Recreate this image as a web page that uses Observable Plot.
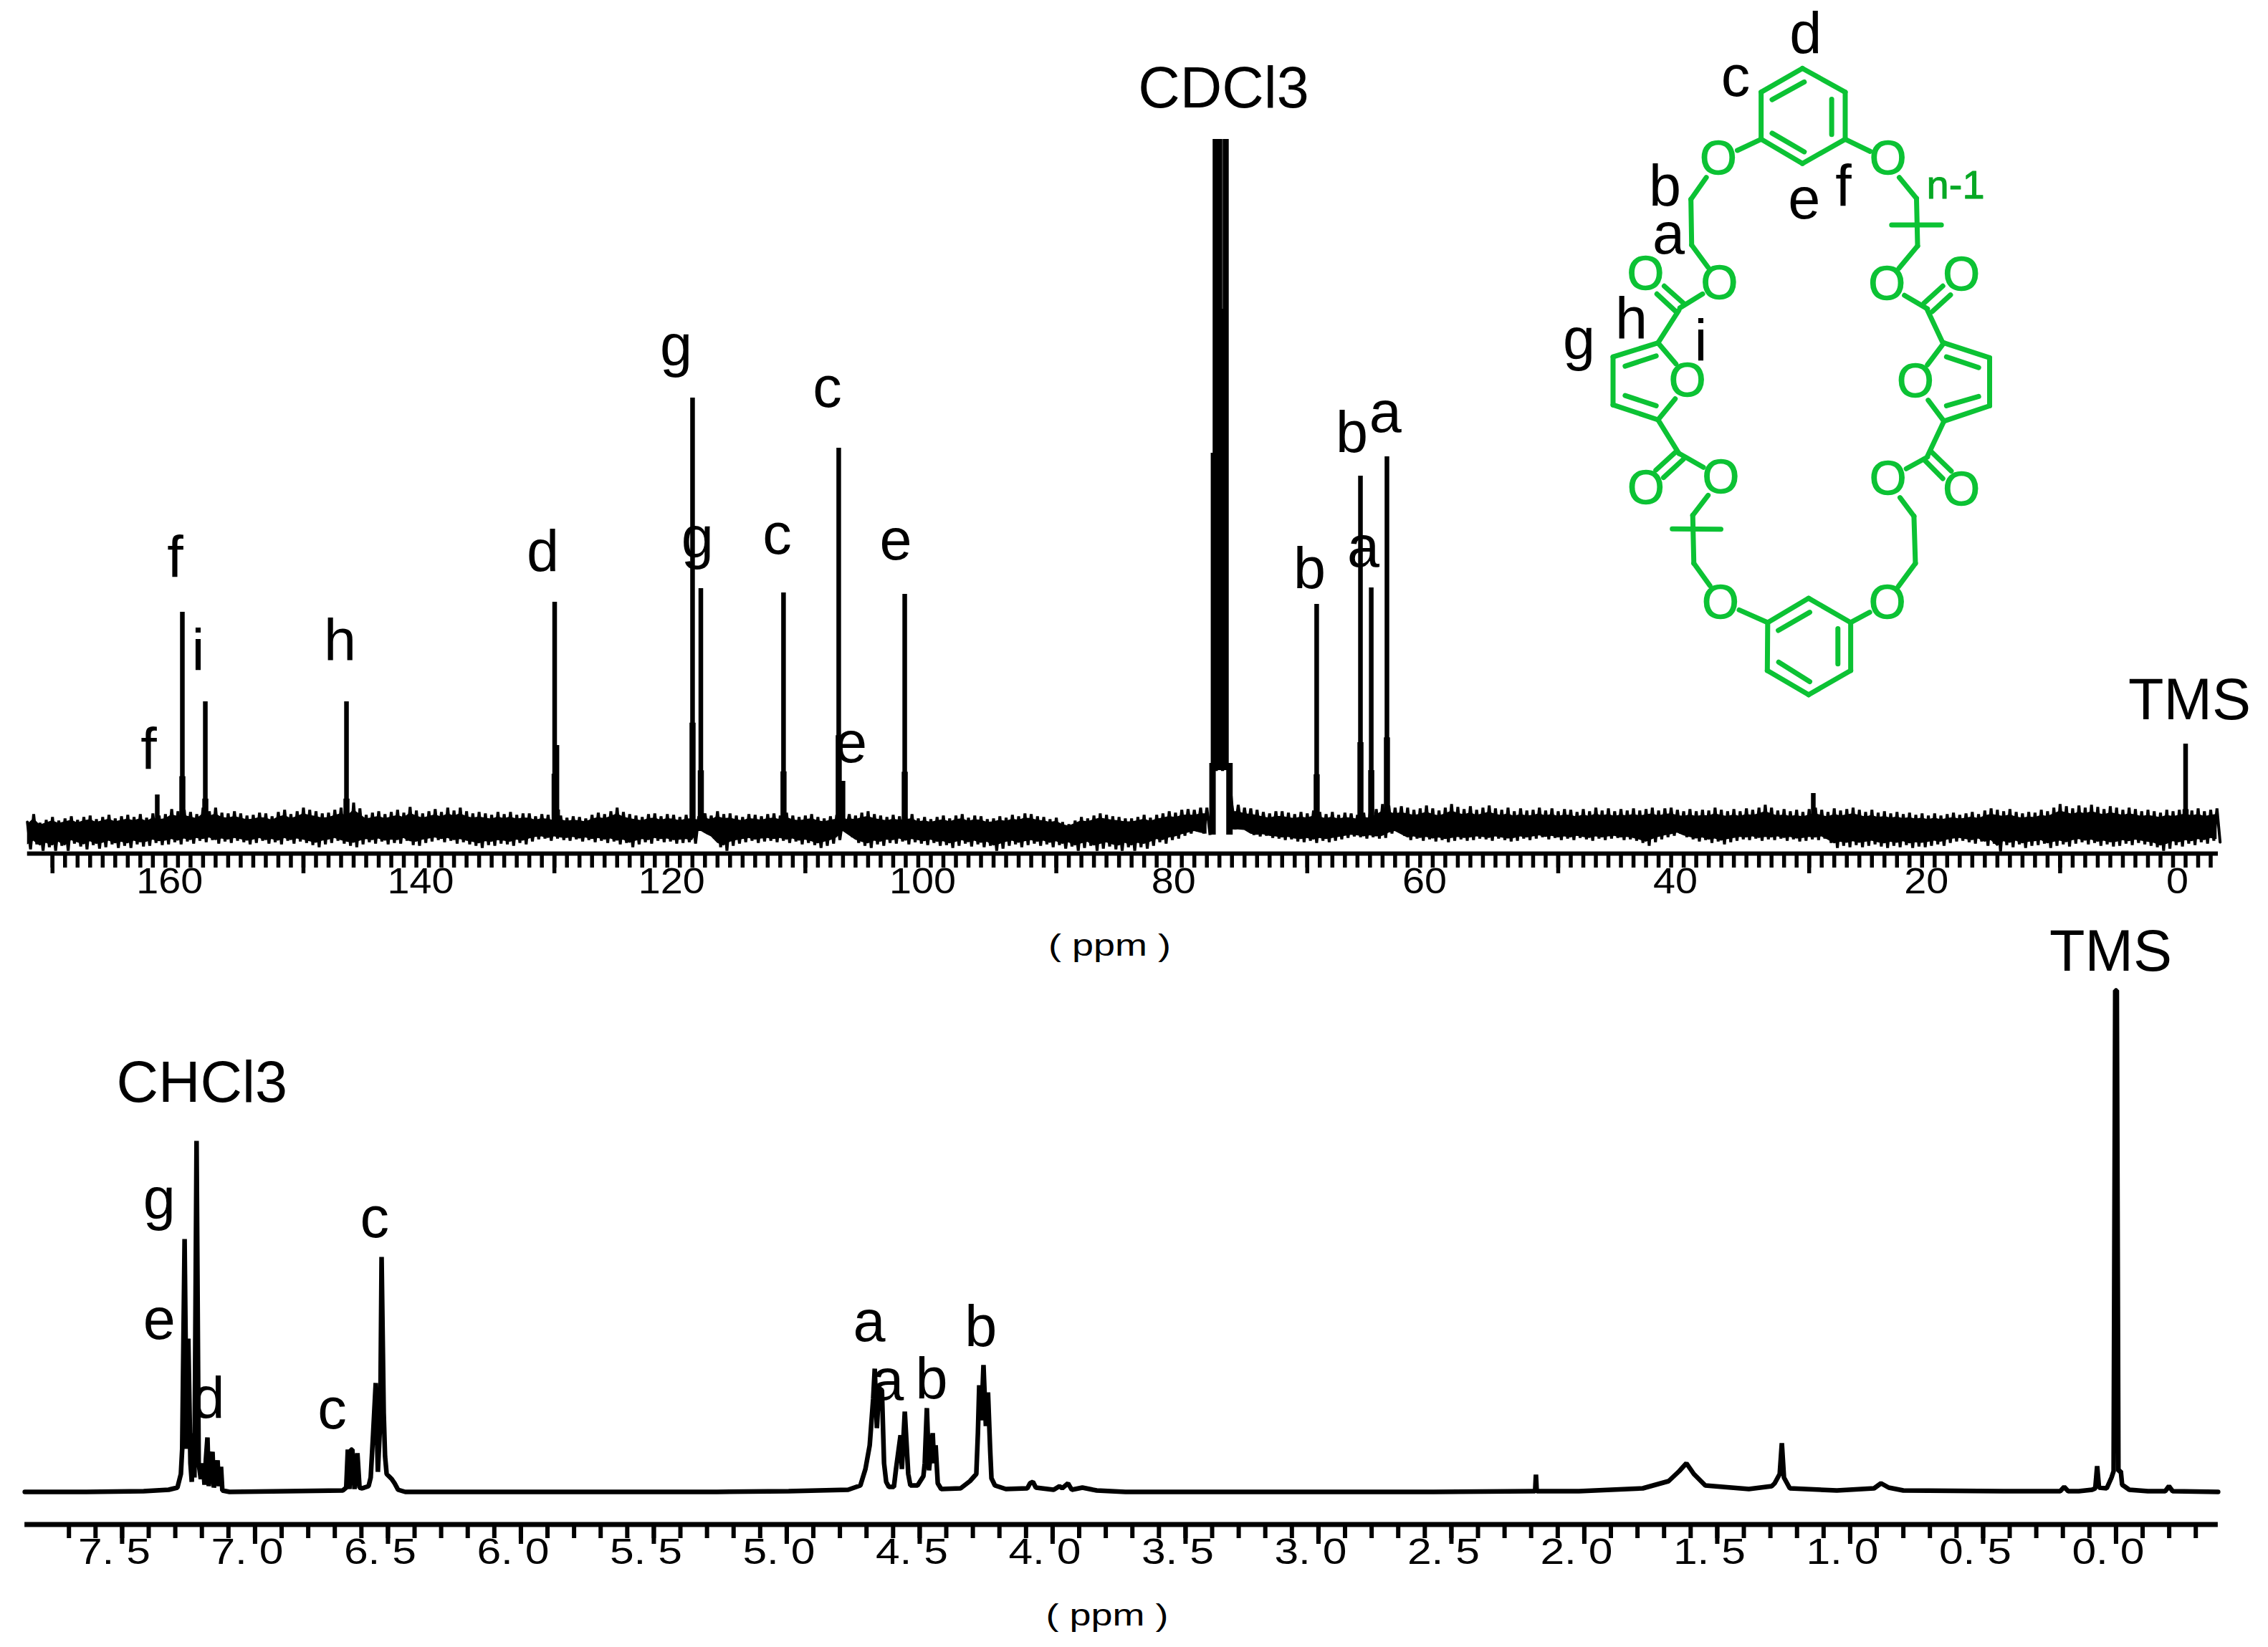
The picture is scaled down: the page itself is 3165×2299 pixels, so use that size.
<!DOCTYPE html>
<html><head><meta charset="utf-8">
<script src="https://cdn.jsdelivr.net/npm/d3@7"></script>
<script src="https://cdn.jsdelivr.net/npm/@observablehq/plot@0.6"></script>
<style>
html,body{margin:0;padding:0;background:#fff}
#wrap{position:relative;width:3165px;height:2299px;overflow:hidden;background:#fff}
svg{position:absolute;overflow:visible;background:transparent}
</style></head><body><div id="wrap"></div>
<script>
// ---------- 13C spectrum (top) : ppm / intensity ----------
const c13PeakPpm = [161.65,159.65,157.82,146.57,129.98,129.8,118.99,118.33,111.74,107.34,107.0,102.08,69.25,65.76,64.9,63.65,29.67,0];
const c13PeakInt = [51,306,181,181,320,120,605,339,333,535,70,331,317,496,340,523,53,122];
// noise envelope, every 0.5 ppm from 172 down to -2.5
const c13NoiseHi = [
13,24,12,16,20,15,18,21,16,20,22,17,20,23,18,21,
23,20,24,19,25,22,24,31,28,30,27,24,33,28,33,26,
25,28,25,22,23,26,25,21,27,30,24,28,33,30,28,25,
26,30,33,29,40,32,23,26,28,24,27,30,26,34,29,25,
28,31,27,33,29,33,28,25,27,25,23,27,24,27,23,25,
25,21,24,23,20,22,19,21,20,18,23,26,24,28,33,27,
24,22,20,24,25,21,24,23,20,23,24,21,25,22,28,24,
25,22,20,24,23,21,24,25,22,26,22,20,22,24,20,18,
21,23,20,24,22,26,28,24,22,20,23,21,22,24,18,20,
17,20,22,18,22,24,19,22,21,17,18,21,19,23,21,25,
24,21,20,17,19,13,10,15,20,18,22,25,23,21,20,18,
18,20,23,19,23,25,28,26,30,31,30,33,33,95,95,95,
37,37,33,32,30,27,25,28,28,26,24,27,25,29,27,24,
27,23,26,25,23,26,25,31,38,36,33,35,33,30,32,36,
32,29,33,38,34,31,35,30,33,36,32,30,33,28,32,29,
30,33,29,32,28,31,30,27,31,28,33,29,32,28,31,29,
32,29,31,33,29,32,33,30,28,31,28,30,29,33,30,28,
31,28,32,30,33,37,33,29,31,28,30,27,31,33,30,27,
32,29,31,33,30,27,30,26,28,25,27,24,26,23,25,22,
25,22,24,26,23,25,27,24,29,32,30,28,31,27,25,27,
26,30,28,33,38,35,32,36,33,37,34,31,35,33,30,33,
31,28,30,28,26,30,28,30,33,29,32,28,30,32];
const c13NoiseLo = [
-25,-18,-27,-22,-27,-20,-27,-17,-21,-25,-19,-24,-22,-18,-23,-20,
-23,-18,-21,-20,-16,-19,-18,-15,-18,-14,-17,-13,-15,-12,-17,-14,
-16,-13,-15,-18,-16,-13,-17,-15,-18,-13,-17,-14,-16,-19,-22,-18,
-16,-13,-17,-20,-22,-18,-15,-17,-14,-18,-16,-17,-13,-19,-20,-16,
-14,-12,-15,-13,-17,-15,-18,-20,-23,-19,-20,-17,-18,-20,-16,-18,
-14,-11,-10,-13,-10,-12,-13,-11,-14,-12,-15,-13,-16,-14,-18,-16,
-22,-18,-15,-17,-13,-15,-14,-17,-16,-15,-17,3,-4,-10,-22,-27,
-20,-17,-15,-13,-16,-14,-13,-15,-13,-16,-14,-18,-16,-19,-23,-20,
-17,-12,0,-8,-16,-20,-23,-18,-20,-16,-17,-14,-18,-15,-17,-19,
-16,-20,-19,-23,-20,-17,-21,-18,-22,-20,-27,-24,-20,-18,-22,-19,
-17,-20,-18,-22,-19,-24,-21,-27,-23,-20,-27,-24,-21,-25,-27,-22,
-27,-22,-24,-20,-15,-17,-12,-10,-6,-3,0,-3,-5,85,85,85,
3,3,2,-5,-7,-6,-9,-10,-12,-11,-14,-15,-13,-16,-13,-15,
-13,-11,-9,-7,-8,-10,-8,-10,-9,-3,0,-6,-12,-10,-13,-11,
-14,-12,-15,-13,-11,-13,-12,-10,-11,-13,-10,-12,-14,-13,-10,-12,
-10,-8,-11,-9,-12,-10,-12,-9,-11,-13,-10,-12,-10,-9,-12,-11,
-13,-16,-20,-15,-11,-8,-6,-3,-8,-11,-14,-12,-16,-14,-18,-15,
-13,-11,-12,-10,-13,-11,-12,-10,-13,-11,-14,-13,-11,-12,-10,-16,
-23,-20,-22,-19,-22,-20,-18,-21,-23,-20,-22,-19,-23,-21,-22,-20,
-18,-20,-16,-14,-13,-15,-17,-14,-20,-17,-28,-19,-22,-18,-23,-20,
-19,-17,-23,-20,-18,-21,-17,-15,-18,-16,-20,-18,-21,-20,-17,-19,
-16,-18,-20,-22,-27,-24,-19,-21,-17,-19,-15,-17,-13,-15];
// solvent multiplet
const cdcl3Ppm  = [77.3,77.01,76.5,77.45,76.75];
const cdcl3Top  = [966,966,966,528,729];
const cdcl3Side = [77.55,76.2];
const c13TickLabels = [160,140,120,100,80,60,40,20,0];
const c13LabelText = ["CDCl3","g","c","g","c","e","d","f","i","h","f","e","b","a","b","a","TMS"];
const c13LabelPpm  = [76.67,120.3,108.25,118.6,112.25,102.79,130.92,160.22,158.39,147.09,162.34,106.37,69.82,65.53,66.45,63.77,-0.31];
const c13LabelInt  = [1011,651,593,383,388,380,364,356,226,240,88,97,340,370,530,558,157];

// ---------- 1H spectrum (bottom) ----------
const h1Ppm = [7.866,7.634,7.419,7.325,7.292,7.279,7.274,7.265,7.257,7.251,7.243,7.238,7.233,7.228,7.220,7.212,7.204,7.196,7.190,7.185,7.179,7.174,7.166,7.160,7.155,7.147,7.141,7.136,7.128,7.123,7.096,
6.880,6.670,6.657,6.651,6.645,6.640,6.634,6.626,6.615,6.607,6.597,6.573,6.565,6.556,6.546,6.538,6.529,6.524,6.516,6.511,6.505,6.486,6.475,6.462,6.435,
6.071,5.262,4.993,4.769,4.723,4.704,4.688,4.675,4.669,4.661,4.653,4.642,4.634,4.626,4.616,4.597,4.589,4.572,4.567,4.556,4.543,4.535,4.508,4.486,4.481,4.473,4.465,4.451,4.446,4.440,4.432,4.419,4.346,4.311,4.287,4.281,4.276,4.268,4.260,4.251,4.243,4.235,4.230,4.217,4.176,4.095,4.085,4.074,4.063,3.996,3.974,3.964,3.942,3.928,3.888,3.834,3.726,2.567,
2.195,2.185,2.182,2.179,2.02,1.780,1.683,1.643,1.616,1.588,1.545,1.381,1.295,1.284,1.265,1.257,1.249,1.227,1.05,0.91,0.884,0.855,0.80,0.40,0.21,0.195,0.18,0.14,0.09,0.078,0.071,0.064,0.035,0.017,0.009,0.003,-0.003,-0.009,-0.018,-0.023,-0.05,-0.12,-0.185,-0.199,-0.213,-0.384];
const h1Int = [0,0,1,3,6,25,60,353,60,214,40,14,82,20,490,40,18,40,10,45,76,8,44,56,6,30,44,8,35,2,0,
1,2,6,59,4,59,59,4,54,6,5,8,20,80,152,28,100,328,110,50,25,18,12,3,0,
0,0,1,3,9,32,65,130,172,89,145,142,40,14,7,7,32,79,32,112,25,9,9,22,40,117,30,82,40,65,12,4,5,15,25,82,149,100,177,92,139,60,19,9,4,5,12,14,6,3,8,5,12,3,6,2,0,0,
1,1,24,1,1,5,15,29,40,25,9,4,8,12,25,68,20,5,2,5,12,6,2,1,1,7,1,1,3,5,36,6,5,20,29,700,700,29,29,10,3,1,1,8,1,0];
const h1TickLabels = ["7. 5","7. 0","6. 5","6. 0","5. 5","5. 0","4. 5","4. 0","3. 5","3. 0","2. 5","2. 0","1. 5","1. 0","0. 5","0. 0"];
const h1TickValues = [7.5,7,6.5,6,5.5,5,4.5,4,3.5,3,2.5,2,1.5,1,0.5,0];
const h1LabelText = ["TMS","CHCl3","g","e","d","c","c","a","a","b","b"];
const h1LabelPpm  = [0.02,7.2,7.36,7.36,7.175,6.71,6.55,4.69,4.62,4.455,4.27];
const h1LabelInt  = [728,545,382,214,104,89,356,211,129,131,204];

// ---------- molecule drawing (diagram units) ----------
const bondX1=[813,930,930,813,700,700,730,893,730,700,930,550,508,510,540,415,435,475,418,295,295,418,418,328,328,418,475,468,487,555,513,516,457,640,718,830,945,945,830,717,747,910,748,945,1075,1122,1118,1097,1145,1165,1155,1200,1325,1325,1200,1200,1207,1207,1155,1092,1145,1168,1078,1125,1128,1057];
const bondY1=[146,197,298,350,298,197,213,212,285,298,298,380,427,525,630,630,613,665,735,765,868,735,900,785,848,900,972,968,985,1062,1105,1208,1134,1308,1335,1283,1335,1438,1490,1438,1352,1348,1420,1335,1258,1208,1107,1005,985,968,978,735,767,870,735,903,765,870,665,633,650,668,380,425,527,482];
const bondX2=[930,930,813,700,700,813,818,893,818,635,998,508,510,555,478,470,488,418,295,295,418,467,465,413,413,475,542,412,433,513,516,560,590,718,830,945,945,830,717,718,833,910,833,997,1122,1118,1080,1155,1197,1220,1200,1325,1325,1200,1155,1157,1295,1295,1197,1155,1197,1218,1125,1128,1077,1193];
const bondY2=[197,298,350,298,197,146,175,288,325,322,324,427,525,573,660,670,650,735,765,868,900,780,855,763,870,972,1002,1008,1024,1105,1208,1256,1135,1335,1283,1335,1438,1490,1438,1335,1313,1424,1462,1313,1208,1107,1067,980,1026,1010,903,767,870,903,782,858,788,850,735,662,613,632,425,527,575,482];
const oxyX=[583,1047,586,1044,384,1248,498,1122,385,1248,590,1047,589,1045];
const oxyY=[341,341,608,610,588,590,817,819,1048,1050,1025,1028,1293,1293];
const molLabelText=["d","c","b","e","f","a","h","g","i"];
const molLabelX=[822,630,437,818,925,447,345,202,535];
const molLabelY=[113,205,440,468,440,543,725,770,772];

// ---------- tables ----------
const FONT='"Liberation Sans",Arial,sans-serif';
const noise = c13NoiseHi.map((hi,i)=>({ppm:172-i*0.5,hi,lo:c13NoiseLo[i]}));
const zigzag = noise.flatMap(d=>[{ppm:d.ppm,h:d.hi},{ppm:d.ppm-0.25,h:d.lo}]);
const c13Peaks = c13PeakPpm.map((ppm,i)=>({ppm,h:c13PeakInt[i]}));
const cdcl3 = cdcl3Ppm.map((ppm,i)=>({ppm,h:cdcl3Top[i]}));
const minor = d3.range(-2,171,1);
const major = [170,150,130,110,90,70,50,30,10];
const h1 = h1Ppm.map((ppm,i)=>({ppm,h:h1Int[i]}));
const h1Ticks = d3.range(-3,78).map(d=>d/10);
const h1Long = d3.range(0,16).map(d=>d/2);
const lab = (t,p,h)=>t.map((text,i)=>({text,ppm:p[i],h:h[i]}));

const top13 = Plot.plot({
  width:3165,height:1360,margin:0,
  x:{domain:[174.155,-6.596],range:[0,3165],axis:null},
  y:{domain:[1160,-200],range:[0,1360],axis:null},
  style:{left:"0px",top:"0px",fontFamily:FONT},
  marks:[
    Plot.areaY(noise,{x:"ppm",y1:d=>d.lo>10?NaN:d.lo*0.75,y2:d=>d.lo>10?NaN:d.hi*0.75,fill:"#000"}),
    Plot.line(zigzag,{x:"ppm",y:"h",stroke:"#000",strokeWidth:4,strokeLinejoin:"bevel"}),
    Plot.ruleX(c13Peaks,{x:"ppm",y1:0,y2:"h",stroke:"#000",strokeWidth:6.5}),
    Plot.ruleX(c13Peaks,{x:"ppm",y1:0,y2:d=>d.h*0.25,stroke:"#000",strokeWidth:8.5}),
    Plot.ruleX(cdcl3,{x:"ppm",y1:85,y2:"h",stroke:"#000",strokeWidth:8.5}),
    Plot.ruleX(cdcl3Side,{x:d=>d,y1:-5,y2:95,stroke:"#000",strokeWidth:9}),
    Plot.ruleY([-31],{x1:172,x2:-2.6,stroke:"#000",strokeWidth:6}),
    Plot.ruleX(minor,{y1:-33,y2:-51,stroke:"#000",strokeWidth:5.5}),
    Plot.ruleX(major,{y1:-33,y2:-59,stroke:"#000",strokeWidth:5.5}),
    Plot.text(c13TickLabels,{x:d=>d,y:-86,text:d=>String(d),dx:-11.5,fontSize:50,lineAnchor:"bottom",fill:"#000"}),
    Plot.text(["( ppm )"],{x:85.75,y:-173,text:d=>d,fontSize:42,lineAnchor:"bottom",fill:"#000"}),
    Plot.text(lab(c13LabelText,c13LabelPpm,c13LabelInt),{x:"ppm",y:"h",text:"text",fontSize:81,lineAnchor:"bottom",fill:"#000"})
  ]
});
const bottom1 = Plot.plot({
  width:3165,height:1019,margin:0,
  x:{domain:[7.958,-0.573],range:[0,3165],axis:null},
  y:{domain:[802,-217],range:[0,1019],axis:null},
  style:{left:"0px",top:"1280px",fontFamily:FONT},
  marks:[
    Plot.line(h1,{x:"ppm",y:"h",stroke:"#000",strokeWidth:6.5,strokeLinejoin:"bevel",curve:"linear"}),
    Plot.ruleY([-45.5],{x1:7.866,x2:-0.384,stroke:"#000",strokeWidth:7}),
    Plot.ruleX(h1Ticks,{y1:-48,y2:-65,stroke:"#000",strokeWidth:6}),
    Plot.ruleX(h1Long,{y1:-48,y2:-73,stroke:"#000",strokeWidth:6}),
    Plot.text(h1TickValues,{x:d=>d,y:-100,text:(d,i)=>h1TickLabels[i],dx:-11,fontSize:50,lineAnchor:"bottom",fill:"#000"}),
    Plot.text(["( ppm )"],{x:3.795,y:-186,text:d=>d,fontSize:42,lineAnchor:"bottom",fill:"#000"}),
    Plot.text(lab(h1LabelText,h1LabelPpm,h1LabelInt),{x:"ppm",y:"h",text:"text",fontSize:81,lineAnchor:"bottom",fill:"#000"})
  ]
});
const GREEN="#0cc234";
const mol = Plot.plot({
  width:800,height:1020,margin:0,
  x:{domain:[0,1568],range:[0,800],axis:null},
  y:{domain:[0,1568],range:[0,1020],axis:null},
  style:{left:"2100px",top:"0px",fontFamily:FONT},
  marks:[
    Plot.link(bondX1.map((_,i)=>i),{x1:i=>bondX1[i],y1:i=>bondY1[i],x2:i=>bondX2[i],y2:i=>bondY2[i],stroke:GREEN,strokeWidth:7,strokeLinecap:"round"}),
    Plot.text(oxyX.map((_,i)=>i),{x:i=>oxyX[i],y:i=>oxyY[i],text:()=>"O",fontSize:66,fill:GREEN,stroke:GREEN,strokeWidth:1.5}),
    Plot.text(["n-1"],{x:1232,y:425,text:d=>d,fontSize:56,lineAnchor:"bottom",fill:"#07a824",stroke:"#07a824",strokeWidth:1}),
    Plot.text(molLabelText.map((_,i)=>i),{x:i=>molLabelX[i],y:i=>molLabelY[i],text:i=>molLabelText[i],fontSize:81,lineAnchor:"bottom",fill:"#000"})
  ]
});
document.getElementById("wrap").append(top13,bottom1,mol);
// stretched glyph widths of the spectrometer's axis lettering
d3.selectAll("text").each(function(){
  const s=this.textContent, sel=d3.select(this);
  if(/^\d\. \d$/.test(s)) sel.attr("textLength",101).attr("lengthAdjust","spacingAndGlyphs");
  else if(s==="( ppm )") sel.attr("textLength",171).attr("lengthAdjust","spacingAndGlyphs");
  else if(/^\d+$/.test(s)) sel.attr("textLength",31*s.length).attr("lengthAdjust","spacingAndGlyphs");
});
</script></body></html>
